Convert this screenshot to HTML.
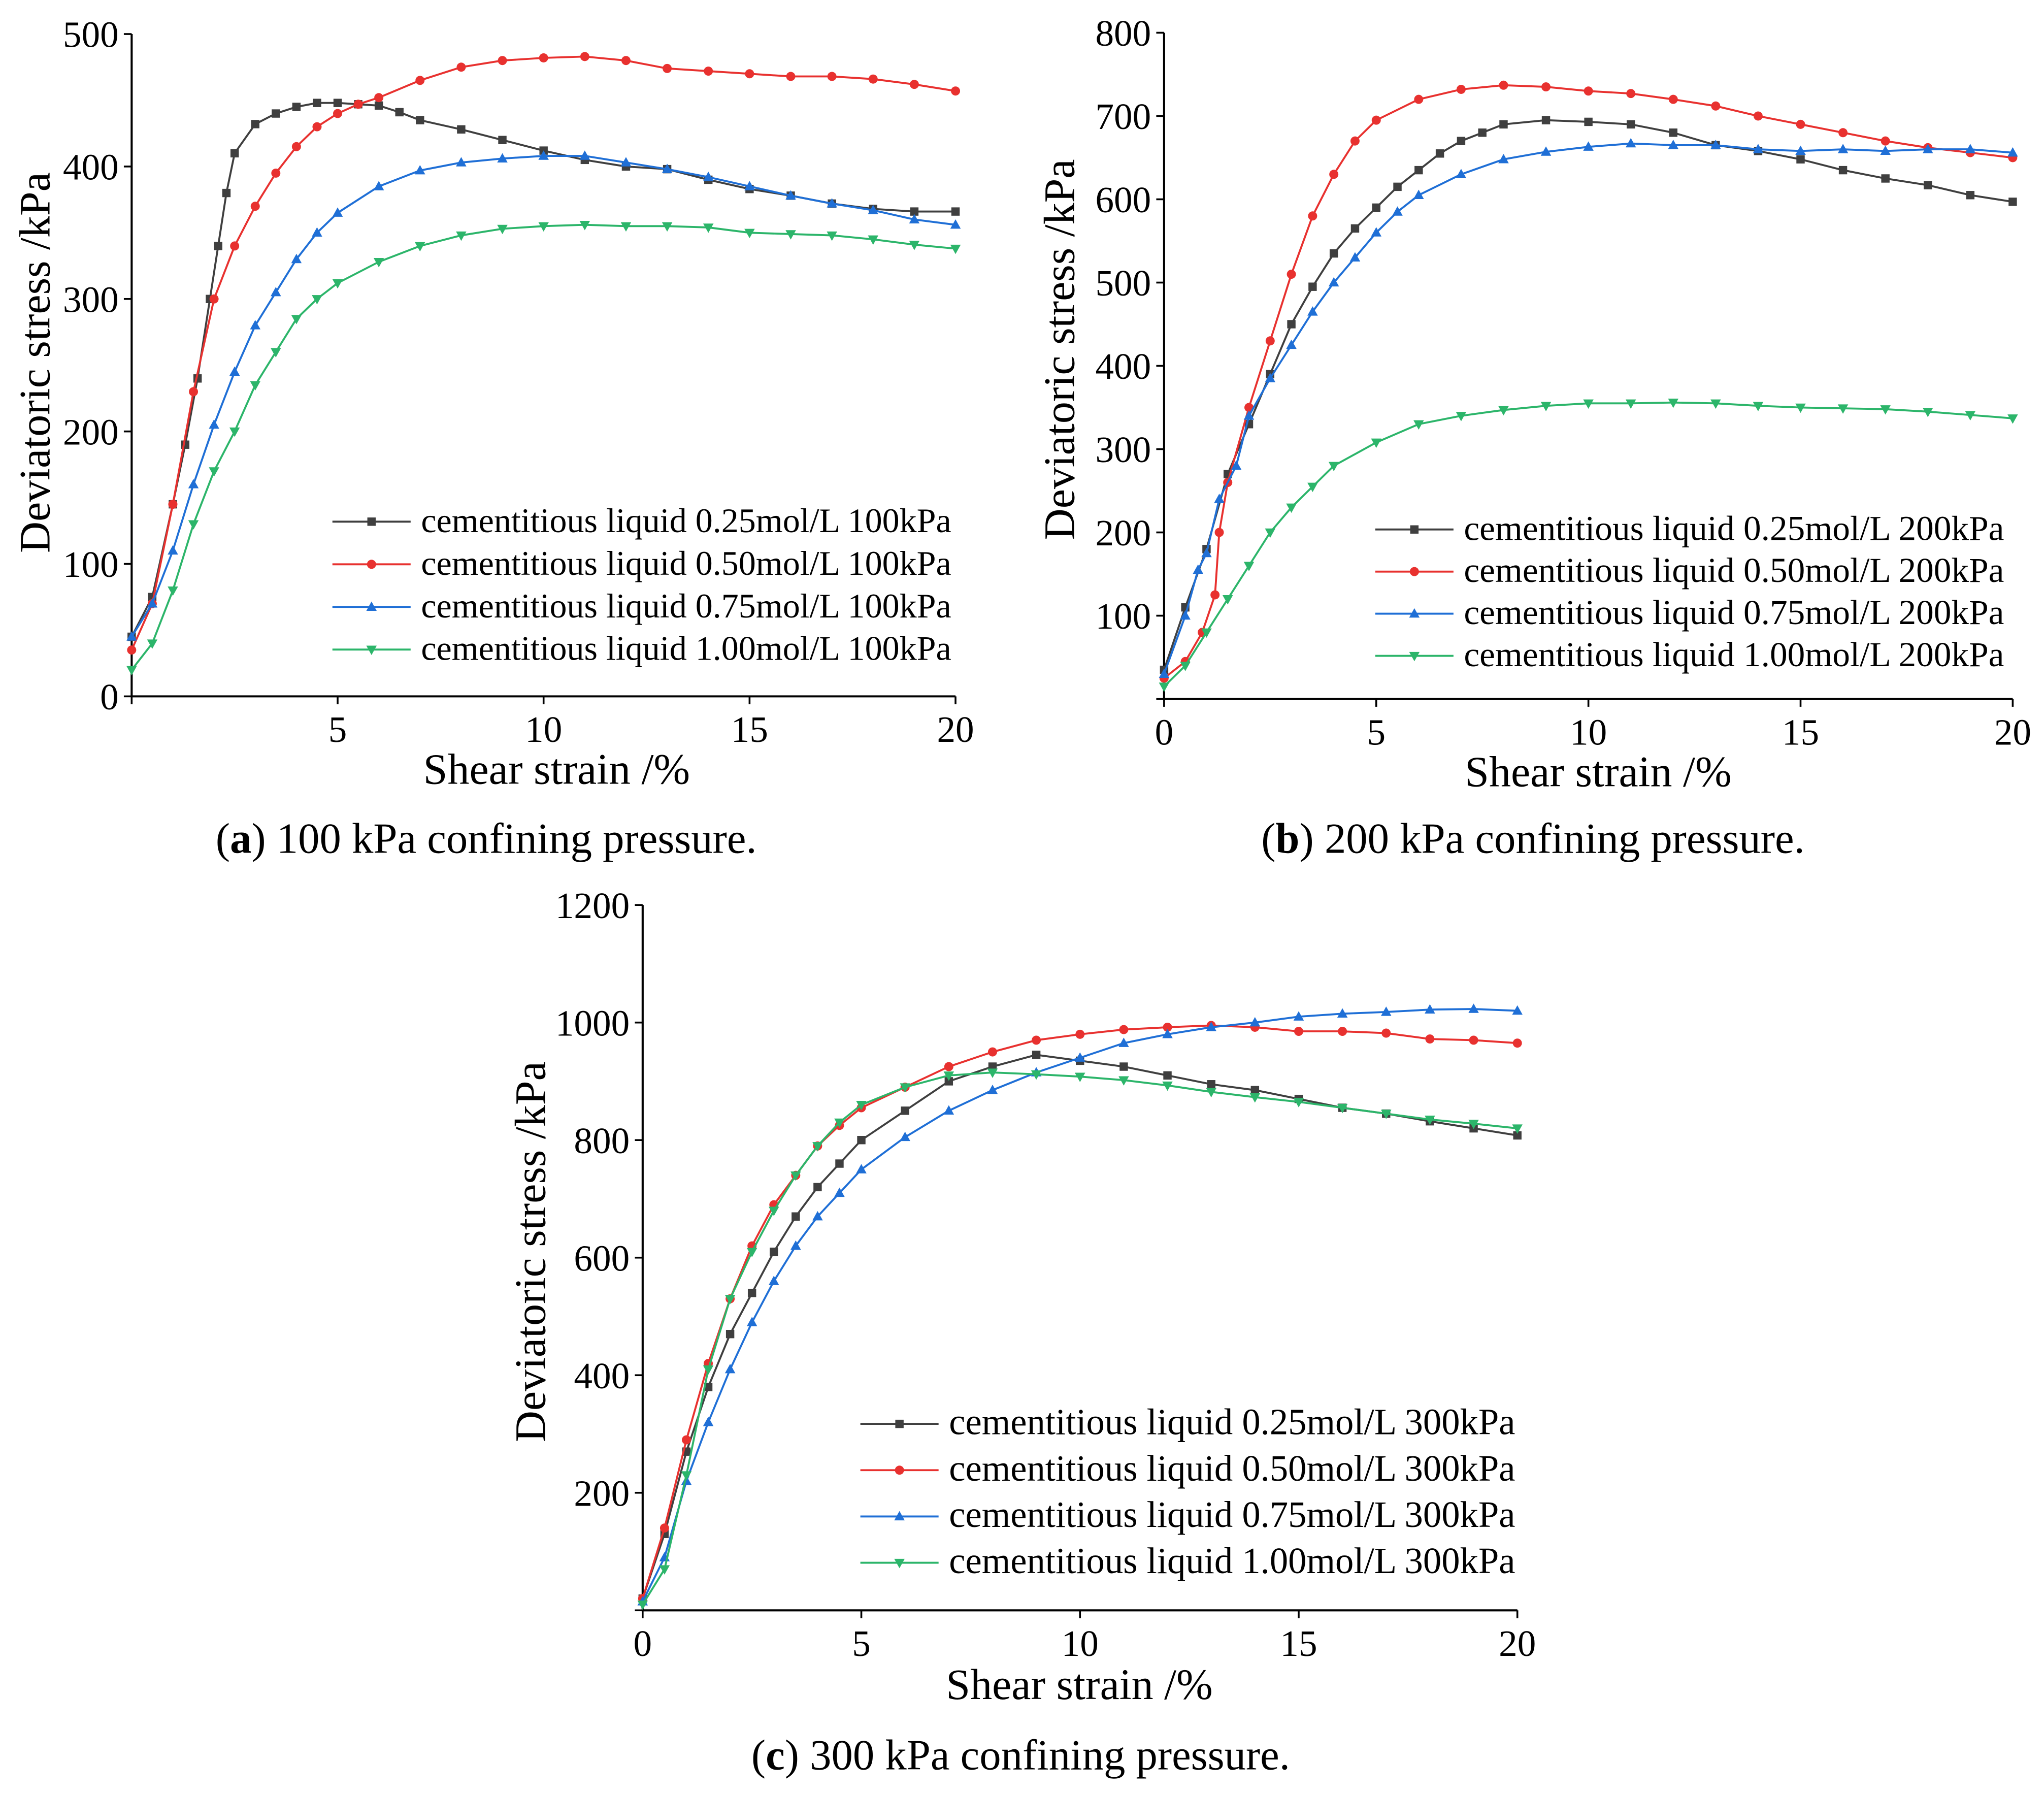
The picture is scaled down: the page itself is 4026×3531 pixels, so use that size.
<!DOCTYPE html>
<html><head><meta charset="utf-8">
<style>html,body{margin:0;padding:0;background:#fff}svg{display:block}text{font-family:"Liberation Serif",serif;fill:#000}</style>
</head><body>
<svg id="fig" width="4026" height="3531" viewBox="0 0 1568 1375" xmlns="http://www.w3.org/2000/svg"></svg>
<script>
const xA=[0,0.5,1,1.3,1.6,1.9,2.1,2.3,2.5,3,3.5,4,4.5,5,5.5,6,6.5,7,8,9,10,11,12,13,14,15,16,17,18,19,20];
const aBlack=[45,75,145,190,240,300,340,380,410,432,440,445,448,448,447,446,441,435,428,420,412,405,400,398,390,383,378,372,368,366,366];
const xStd=[0,0.5,1,1.5,2,2.5,3,3.5,4,4.5,5,6,7,8,9,10,11,12,13,14,15,16,17,18,19,20];
const xStd2=[0,0.5,1,1.5,2,2.5,3,3.5,4,4.5,5,5.5,6,7,8,9,10,11,12,13,14,15,16,17,18,19,20];
const aRed=[35,70,145,230,300,340,370,395,415,430,440,447,452,465,475,480,482,483,480,474,472,470,468,468,466,462,457];
const aBlue=[45,70,110,160,205,245,280,305,330,350,365,385,397,403,406,408,408,403,398,392,385,378,372,367,360,356];
const aGreen=[20,40,80,130,170,200,235,260,285,300,312,328,340,348,353,355,356,355,355,354,350,349,348,345,341,338];
const xB1=[0,0.5,1,1.5,2,2.5,3,3.5,4,4.5,5,5.5,6,6.5,7,7.5,8,9,10,11,12,13,14,15,16,17,18,19,20];
const bBlack=[35,110,180,270,330,390,450,495,535,565,590,615,635,655,670,680,690,695,693,690,680,665,658,648,635,625,617,605,597];
const xB2=[0,0.5,0.9,1.2,1.3,1.5,2,2.5,3,3.5,4,4.5,5,6,7,8,9,10,11,12,13,14,15,16,17,18,19,20];
const bRed=[25,45,80,125,200,260,350,430,510,580,630,670,695,720,732,737,735,730,727,720,712,700,690,680,670,662,656,650];
const xB3=[0,0.5,0.8,1,1.3,1.7,2,2.5,3,3.5,4,4.5,5,5.5,6,7,8,9,10,11,12,13,14,15,16,17,18,19,20];
const bBlue=[30,100,155,175,240,280,340,385,425,465,500,530,560,585,605,630,648,657,663,667,665,665,660,658,660,658,660,660,656];
const xB4=[0,0.5,1,1.5,2,2.5,3,3.5,4,5,6,7,8,9,10,11,12,13,14,15,16,17,18,19,20];
const bGreen=[15,40,80,120,160,200,230,255,280,308,330,340,347,352,355,355,356,355,352,350,349,348,345,341,337];
const cBlack=[20,130,270,380,470,540,610,670,720,760,800,850,900,925,945,935,925,910,895,885,870,855,845,832,820,808];
const cRed=[20,140,290,420,530,620,690,740,790,825,855,890,925,950,970,980,988,992,995,992,985,985,982,972,970,965];
const cBlue=[15,90,220,320,410,490,560,620,670,710,750,805,850,885,915,940,965,980,992,1000,1010,1015,1018,1022,1023,1020];
const cGreen=[10,70,230,410,530,610,680,740,790,830,860,890,910,915,912,908,902,893,882,873,865,855,845,835,828,820];

const NS="http://www.w3.org/2000/svg";
const svg=document.getElementById('fig');
function mk(tag,attrs,parent,txt){const e=document.createElementNS(NS,tag);for(const k in attrs)e.setAttribute(k,attrs[k]);if(txt!==undefined)e.textContent=txt;(parent||svg).appendChild(e);return e;}
const COL={k:'#3f3f3f',r:'#e8312f',b:'#1f6fd6',g:'#2cb56a'};
function marker(g,type,x,y,c){
  let e;
  if(type==='k')e=mk('rect',{x:x-3.2,y:y-3.2,width:6.4,height:6.4,fill:c},g);
  else if(type==='r')e=mk('circle',{cx:x,cy:y,r:3.5,fill:c},g);
  else if(type==='b')e=mk('polygon',{points:`${x},${y-4.2} ${x-4},${y+3} ${x+4},${y+3}`,fill:c},g);
  else e=mk('polygon',{points:`${x},${y+4.2} ${x-4},${y-3} ${x+4},${y-3}`,fill:c},g);
  
  
}
function panel(p){
  const g=mk('g',{});
  
  
  const sx=v=>p.x0+(p.x1-p.x0)*v/20;
  const sy=v=>p.y0-(p.y0-p.y1)*v/p.ymax;
  const ax=mk('path',{d:`M${p.x0},${p.y1} V${p.y0} H${p.x1}`,stroke:'#000','stroke-width':1.6,fill:'none'},g);
  
  [0,5,10,15,20].forEach(t=>{
    mk('line',{x1:sx(t),x2:sx(t),y1:p.y0,y2:p.y0+6,stroke:'#000','stroke-width':1.4},g);
    if(t===0&&!p.x0lab)return;
    const tl=mk('text',{x:sx(t),y:p.y0+35,'font-size':28.5,'text-anchor':'middle'},g,String(t));
    
  });
  for(let t=0;t<=p.ymax;t+=p.ystep){
    mk('line',{x1:p.x0-6,x2:p.x0,y1:sy(t),y2:sy(t),stroke:'#000','stroke-width':1.4},g);
    if(t===0&&!p.y0lab)continue;
    const tl=mk('text',{x:p.x0-10,y:sy(t)+10,'font-size':28.5,'text-anchor':'end'},g,String(t));
    
  }
  p.series.forEach(s=>{
    const sg=mk('g',{},g);
    
    
    mk('polyline',{points:s.x.map((v,i)=>sx(v)+','+sy(s.y[i])).join(' '),stroke:COL[s.t],'stroke-width':1.5,fill:'none'},sg);
    s.x.forEach((v,i)=>marker(sg,s.t,sx(v),sy(s.y[i]),COL[s.t]));
  });
  const lg=mk('g',{},g);
  
  p.series.forEach((s,i)=>{
    const y=p.ly+i*p.ld;
    const le=mk('g',{},lg);
    
    mk('line',{x1:p.lx,x2:p.lx+60,y1:y,y2:y,stroke:COL[s.t],'stroke-width':1.5},le);
    marker(le,s.t,p.lx+30,y,COL[s.t]);
    mk('text',{x:p.lx+68,y:y+8,'font-size':p.lfs},le,s.label);
  });
  const xt=mk('text',{x:p.xtx,y:p.xty,'font-size':33.5,'text-anchor':'middle'},g,'Shear strain /%');
  
  const yt=mk('text',{x:0,y:0,'font-size':33.5,'text-anchor':'middle',transform:`translate(${p.ytx},${p.yty}) rotate(-90)`},g,'Deviatoric stress /kPa');
  
  const cap=mk('text',{x:p.cx,y:p.cy,'font-size':33,'text-anchor':'middle'},g);
  
  mk('tspan',{},cap,'(');mk('tspan',{'font-weight':'bold'},cap,p.letter);mk('tspan',{},cap,') '+p.cap);
}
const lab=(c,k)=>'cementitious liquid '+c+'mol/L '+k+'kPa';
panel({name:'panel-a-100kpa',x0:101,x1:733,y0:534,y1:26,ymax:500,ystep:100,y0lab:true,x0lab:false,
 lx:255,ly:400,ld:32.7,lfs:26.5,xtx:427,xty:601,ytx:38,yty:278,cx:373,cy:654,letter:'a',cap:'100 kPa confining pressure.',
 series:[{t:'k',x:xA,y:aBlack,label:lab('0.25',100)},{t:'r',x:xStd2,y:aRed,label:lab('0.50',100)},{t:'b',x:xStd,y:aBlue,label:lab('0.75',100)},{t:'g',x:xStd,y:aGreen,label:lab('1.00',100)}]});
panel({name:'panel-b-200kpa',x0:893,x1:1544,y0:536,y1:25,ymax:800,ystep:100,y0lab:false,x0lab:true,
 lx:1055,ly:406,ld:32.3,lfs:27,xtx:1226,xty:603,ytx:824,yty:268,cx:1176,cy:654,letter:'b',cap:'200 kPa confining pressure.',
 series:[{t:'k',x:xB1,y:bBlack,label:lab('0.25',200)},{t:'r',x:xB2,y:bRed,label:lab('0.50',200)},{t:'b',x:xB3,y:bBlue,label:lab('0.75',200)},{t:'g',x:xB4,y:bGreen,label:lab('1.00',200)}]});
panel({name:'panel-c-300kpa',x0:493,x1:1164,y0:1235,y1:694,ymax:1200,ystep:200,y0lab:false,x0lab:true,
 lx:660,ly:1092,ld:35.5,lfs:28.3,xtx:828,xty:1303,ytx:418,yty:960,cx:783,cy:1357,letter:'c',cap:'300 kPa confining pressure.',
 series:[{t:'k',x:xStd,y:cBlack,label:lab('0.25',300)},{t:'r',x:xStd,y:cRed,label:lab('0.50',300)},{t:'b',x:xStd,y:cBlue,label:lab('0.75',300)},{t:'g',x:xStd,y:cGreen,label:lab('1.00',300)}]});
</script>
</body></html>
